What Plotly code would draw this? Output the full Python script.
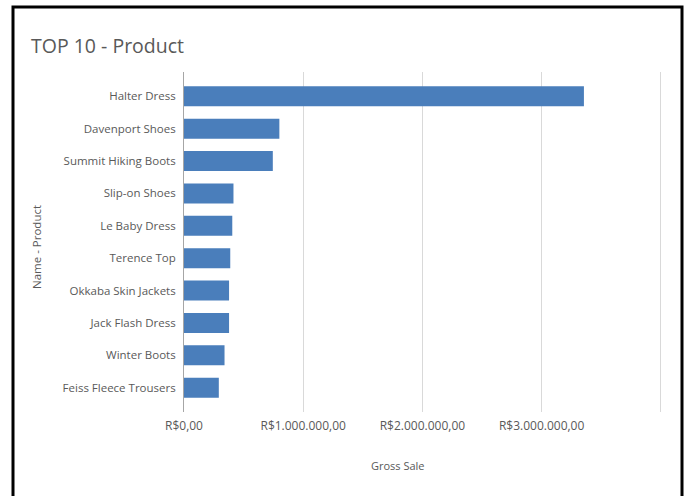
import plotly.graph_objects as go

# Top 10 products by gross sale (R$)
products = [
    "Halter Dress", "Davenport Shoes", "Summit Hiking Boots", "Slip-on Shoes",
    "Le Baby Dress", "Terence Top", "Okkaba Skin Jackets", "Jack Flash Dress",
    "Winter Boots", "Feiss Fleece Trousers",
]
gross_sale = [
    3355000, 800000, 745000, 415000, 405000, 388000, 378000, 378000, 340000, 292000,
]

tick_values = [0, 1000000, 2000000, 3000000, 4000000]
tick_labels = ["R$0,00", "R$1.000.000,00", "R$2.000.000,00", "R$3.000.000,00", ""]

TEXT = "#595959"
FONT = "Open Sans"

fig = go.Figure(
    go.Bar(
        x=gross_sale,
        y=products,
        orientation="h",
        marker=dict(color="#4a7ebb", line=dict(width=0)),
        hoverinfo="x+y",
    )
)

W, H = 688, 496
L, R, T, B = 184, 26, 72, 84
pw, ph = W - L - R, H - T - B

fig.update_layout(
    width=W,
    height=H,
    margin=dict(l=L, r=R, t=T, b=B),
    paper_bgcolor="white",
    plot_bgcolor="white",
    bargap=0.38,
    showlegend=False,
    font=dict(family=FONT, color=TEXT, size=11),
    title=dict(
        text="TOP 10 - Product",
        x=31 / W,
        xanchor="left",
        y=1 - 46 / H,
        yanchor="middle",
        font=dict(family=FONT, size=19.5, color=TEXT),
    ),
    xaxis=dict(
        # a hair past 4M so the last gridline is drawn at the right edge
        range=[0, 4010000],
        tickvals=tick_values,
        ticktext=tick_labels,
        showgrid=True,
        gridcolor="#d9d9d9",
        gridwidth=1,
        zeroline=False,
        showline=False,
        ticks="",
        ticklabelstandoff=5,
        tickfont=dict(size=12, color=TEXT),
        fixedrange=True,
    ),
    yaxis=dict(
        autorange=False,
        range=[len(products) - 0.25, -0.75],
        showgrid=False,
        zeroline=False,
        showline=True,
        linecolor="#a6a6a6",
        linewidth=1,
        ticks="",
        ticklabelstandoff=5,
        tickfont=dict(size=11.5, color=TEXT),
        fixedrange=True,
    ),
    annotations=[
        dict(
            text="Gross Sale",
            xref="paper", yref="paper",
            x=0.5 + (398 - (L + pw / 2)) / pw,
            y=-(466 - (T + ph)) / ph,
            xanchor="center", yanchor="middle",
            showarrow=False,
            font=dict(family=FONT, size=11, color=TEXT),
        ),
        dict(
            text="Name - Product",
            xref="paper", yref="paper",
            x=(37 - L) / pw,
            y=1 - (247 - T) / ph,
            xanchor="center", yanchor="middle",
            textangle=-90,
            showarrow=False,
            font=dict(family=FONT, size=11.5, color=TEXT),
        ),
    ],
    shapes=[
        # outer frame around the chart (open at the bottom edge)
        dict(
            type="path",
            xref="paper", yref="paper",
            path="M {x0},{y1} L {x0},{y0} L {x1},{y0} L {x1},{y1}".format(
                x0=(13 - L) / pw,
                x1=(682 - L) / pw,
                y0=1 + (T - 7) / ph,
                y1=-(H + 10 - T - ph) / ph,
            ),
            line=dict(color="black", width=3),
            layer="above",
        )
    ],
)

fig.write_html("out.html")
